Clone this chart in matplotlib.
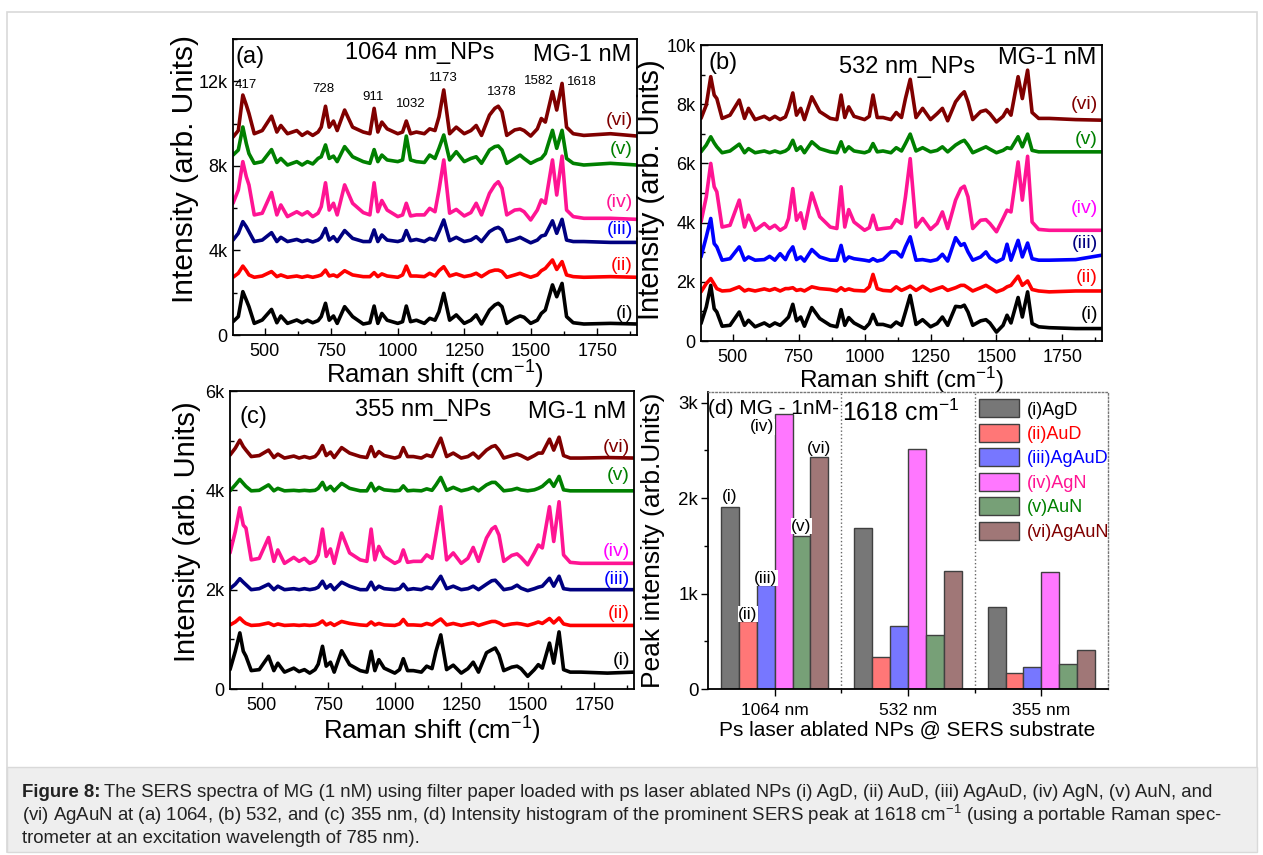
import matplotlib
matplotlib.use("Agg")
import matplotlib.pyplot as plt
from matplotlib.ticker import MultipleLocator, FuncFormatter, FixedLocator
from matplotlib.patches import Rectangle

plt.rcParams['font.family'] = ['Liberation Sans', 'DejaVu Sans']
plt.rcParams['mathtext.fontset'] = 'custom'
plt.rcParams['mathtext.rm'] = 'Liberation Sans'
plt.rcParams['mathtext.it'] = 'Liberation Sans:italic'
plt.rcParams['mathtext.bf'] = 'Liberation Sans:bold'

# ---------------------------------------------------------------- data
raman_shift = [
    380, 400, 417, 430, 440, 460, 490, 525, 545, 560,
    585, 620, 640, 660, 680, 700, 712, 728, 742, 758,
    772, 800, 830, 870, 895, 911, 925, 940, 960, 1000,
    1018, 1032, 1048, 1070, 1100, 1120, 1140, 1155, 1173, 1195,
    1220, 1250, 1275, 1295, 1315, 1345, 1365, 1378, 1392, 1410,
    1440, 1460, 1475, 1500, 1525, 1540, 1555, 1582, 1598, 1618,
    1635, 1660, 1700, 1800, 1900,
]

# (a) 1064 nm NPs, stacked spectra
a_agd = [
    630, 870, 2050, 1655, 1340, 550, 710, 1210, 580, 900,
    550, 710, 580, 700, 580, 680, 870, 1500, 700, 900,
    550, 1340, 870, 520, 580, 1370, 550, 1020, 700, 550,
    630, 1370, 630, 700, 550, 790, 700, 1100, 1970, 700,
    950, 550, 700, 950, 520, 1180, 1420, 1500, 1340, 550,
    790, 900, 840, 550, 700, 1020, 1180, 2370, 1810, 2440,
    870, 580, 520, 550, 520,
]
a_aud = [
    2730, 2920, 3260, 3040, 2840, 2730, 2790, 3000, 2760, 2840,
    2730, 2790, 2730, 2790, 2730, 2790, 2840, 3070, 2790, 2840,
    2760, 3040, 2840, 2760, 2760, 2950, 2760, 2890, 2790, 2730,
    2840, 3260, 2790, 2790, 2760, 2920, 2790, 3040, 3230, 2790,
    2890, 2760, 2820, 2920, 2760, 3000, 3070, 3070, 3000, 2730,
    2840, 2920, 2840, 2730, 2840, 3040, 3150, 3550, 3100, 3470,
    2840, 2760, 2730, 2760, 2730,
]
a_agaud = [
    4490, 4810, 5360, 5120, 4890, 4420, 4490, 4840, 4420, 4620,
    4420, 4520, 4420, 4490, 4400, 4490, 4620, 5040, 4490, 4650,
    4420, 4940, 4570, 4420, 4420, 4970, 4420, 4730, 4490, 4420,
    4490, 4940, 4460, 4520, 4420, 4570, 4490, 4890, 5440, 4460,
    4620, 4420, 4490, 4650, 4420, 4890, 5040, 5090, 4970, 4420,
    4520, 4620, 4520, 4360, 4490, 4680, 4730, 5400, 4810, 5470,
    4490, 4420, 4420, 4380, 4380,
]
a_agn = [
    6230, 6860, 8200, 7490, 7100, 5680, 5760, 6740, 5680, 6150,
    5600, 5830, 5680, 5830, 5600, 5760, 6070, 7200, 5910, 6230,
    5680, 7100, 6230, 5790, 5680, 7200, 5830, 6360, 5910, 5600,
    5680, 6230, 5630, 5680, 5680, 5990, 5830, 6860, 8280, 5760,
    5940, 5630, 5790, 6230, 5680, 6700, 7100, 7250, 6940, 5680,
    5910, 5940, 5830, 5440, 5910, 6390, 6230, 8280, 6620, 8460,
    5910, 5600, 5520, 5520, 5470,
]
a_aun = [
    8510, 8750, 9840, 9060, 8580, 8120, 8200, 8770, 8160, 8350,
    8040, 8200, 8040, 8200, 8090, 8350, 8430, 8990, 8350, 8460,
    8200, 8910, 8430, 8200, 8120, 8770, 8200, 8510, 8280, 8200,
    8280, 9410, 8280, 8200, 8160, 8510, 8350, 8830, 9460, 8280,
    8670, 8200, 8350, 8430, 8120, 8750, 8910, 8940, 8750, 8120,
    8350, 8510, 8350, 8120, 8280, 8350, 8580, 9680, 8830, 9680,
    8350, 8120, 8040, 8120, 8040,
]
a_agaun = [
    9360, 9670, 11350, 10880, 10480, 9520, 9670, 10350, 9600, 9910,
    9520, 9670, 9440, 9600, 9440, 9600, 9830, 10820, 9830, 10120,
    9670, 10640, 9830, 9600, 9520, 10720, 9600, 10070, 9750, 9520,
    9600, 10120, 9520, 9600, 9520, 9750, 9670, 10320, 11590, 9520,
    9830, 9520, 9670, 9910, 9440, 10400, 10720, 10820, 10560, 9440,
    9700, 9750, 9670, 9410, 9750, 10240, 10070, 11510, 10640, 11900,
    9830, 9520, 9440, 9520, 9410,
]

# (b) 532 nm NPs
b_agd = [
    590, 1150, 1880, 1090, 980, 500, 530, 980, 530, 700,
    480, 610, 500, 610, 530, 700, 810, 1240, 680, 810,
    500, 1130, 760, 530, 480, 1060, 530, 790, 610, 420,
    590, 900, 560, 560, 480, 640, 530, 980, 1540, 560,
    720, 480, 590, 810, 530, 1170, 1150, 1210, 980, 530,
    680, 720, 610, 300, 530, 870, 610, 1470, 810, 1660,
    590, 480, 450, 420, 420,
]
b_aud = [
    1660, 1940, 2110, 1920, 1770, 1690, 1710, 1830, 1690, 1740,
    1690, 1760, 1710, 1770, 1690, 1770, 1770, 1800, 1710, 1740,
    1690, 1830, 1770, 1740, 1690, 1800, 1710, 1760, 1710, 1690,
    1830, 2250, 1770, 1710, 1690, 1830, 1710, 1770, 1850, 1710,
    1850, 1690, 1770, 1830, 1710, 1800, 1880, 1880, 1800, 1690,
    1800, 1880, 1800, 1660, 1740, 1830, 1880, 2190, 1880, 2030,
    1740, 1690, 1660, 1690, 1690,
]
b_agaud = [
    2840, 3520, 4140, 3290, 3180, 2730, 2780, 3180, 2730, 2840,
    2730, 2750, 2860, 2730, 2950, 2750, 2980, 3180, 2750, 2840,
    2700, 3090, 2840, 2730, 2730, 3230, 2700, 2840, 2780, 2730,
    2700, 2780, 2700, 2750, 3010, 3010, 2840, 3180, 3520, 2730,
    2750, 2700, 2750, 2930, 2700, 3490, 3230, 3290, 3010, 2730,
    2840, 3010, 2810, 2670, 2780, 3270, 2730, 3400, 2840, 3310,
    2780, 2730, 2730, 2750, 2900,
]
b_agn = [
    4020, 4870, 6000, 5210, 5040, 3850, 3910, 4760, 3850, 4250,
    3740, 3970, 3800, 3910, 3740, 3850, 4140, 5150, 4080, 4330,
    3800, 5000, 4200, 3850, 3800, 5210, 3850, 4440, 4020, 3740,
    3830, 4250, 3770, 3800, 3830, 4100, 3970, 4870, 6160, 3850,
    4140, 3770, 3970, 4360, 3800, 4760, 5150, 5230, 4870, 3800,
    4080, 4100, 3970, 3690, 4140, 4420, 4360, 6050, 4760, 6240,
    4020, 3770, 3740, 3740, 3740,
]
b_aun = [
    6390, 6620, 6900, 6690, 6560, 6360, 6420, 6650, 6360, 6500,
    6360, 6420, 6360, 6420, 6360, 6420, 6500, 6780, 6440, 6560,
    6360, 6730, 6500, 6390, 6360, 6730, 6390, 6560, 6420, 6360,
    6420, 6670, 6390, 6420, 6360, 6530, 6420, 6670, 6990, 6420,
    6530, 6390, 6440, 6560, 6390, 6620, 6730, 6780, 6620, 6360,
    6480, 6560, 6480, 6360, 6440, 6530, 6500, 6900, 6560, 6990,
    6440, 6390, 6390, 6390, 6390,
]
b_agaun = [
    7520, 7970, 8930, 8310, 8190, 7520, 7630, 8140, 7520, 7860,
    7480, 7590, 7480, 7590, 7480, 7570, 7860, 8380, 7630, 7860,
    7480, 8250, 7750, 7520, 7480, 8310, 7550, 7910, 7590, 7480,
    7590, 8310, 7550, 7550, 7480, 7720, 7550, 8190, 8840, 7550,
    7860, 7480, 7680, 7860, 7440, 8080, 8310, 8420, 8080, 7480,
    7750, 7800, 7680, 7400, 7590, 7820, 7630, 8930, 8190, 9150,
    7720, 7520, 7520, 7480, 7460,
]

# (c) 355 nm NPs
c_agd = [
    390, 760, 1130, 760, 660, 370, 390, 660, 370, 520,
    340, 420, 350, 390, 320, 390, 500, 860, 460, 540,
    340, 770, 490, 370, 340, 760, 370, 590, 420, 320,
    390, 610, 370, 370, 340, 460, 410, 760, 1090, 390,
    480, 320, 410, 540, 340, 730, 790, 825, 690, 370,
    440, 460, 410, 255, 390, 490, 420, 925, 520, 1150,
    390, 340, 340, 320, 340,
]
c_aud = [
    1290, 1350, 1430, 1360, 1320, 1280, 1290, 1330, 1280, 1310,
    1280, 1290, 1280, 1290, 1280, 1290, 1310, 1370, 1290, 1330,
    1280, 1360, 1320, 1290, 1280, 1350, 1290, 1320, 1290, 1280,
    1310, 1400, 1290, 1290, 1280, 1320, 1290, 1350, 1410, 1290,
    1320, 1280, 1310, 1330, 1280, 1330, 1360, 1360, 1330, 1280,
    1310, 1320, 1310, 1280, 1320, 1350, 1320, 1420, 1330, 1430,
    1310, 1280, 1280, 1280, 1280,
]
c_agaud = [
    2020, 2110, 2220, 2150, 2100, 2000, 2020, 2110, 2000, 2070,
    2000, 2020, 2000, 2020, 2000, 2020, 2050, 2170, 2030, 2100,
    2000, 2150, 2070, 2000, 2000, 2150, 2000, 2070, 2020, 2000,
    2020, 2110, 2000, 2020, 2000, 2050, 2020, 2130, 2270, 2020,
    2070, 2000, 2020, 2070, 2000, 2110, 2180, 2190, 2110, 2000,
    2030, 2090, 2030, 1980, 2020, 2050, 2070, 2230, 2070, 2270,
    2020, 2000, 2000, 2000, 2000,
]
c_agn = [
    2740, 3170, 3650, 3300, 3240, 2600, 2630, 3050, 2570, 2800,
    2530, 2650, 2570, 2630, 2530, 2580, 2700, 3220, 2670, 2820,
    2530, 3140, 2740, 2600, 2570, 3220, 2600, 2870, 2670, 2530,
    2580, 2800, 2550, 2570, 2570, 2700, 2630, 3100, 3670, 2600,
    2740, 2530, 2630, 2850, 2570, 3040, 3220, 3270, 3100, 2570,
    2690, 2720, 2650, 2500, 2740, 2900, 2840, 3670, 2970, 3770,
    2700, 2550, 2530, 2530, 2530,
]
c_aun = [
    3990, 4110, 4220, 4140, 4080, 3990, 4000, 4110, 3990, 4040,
    3990, 4000, 3990, 4000, 3990, 4000, 4040, 4160, 4010, 4080,
    3990, 4140, 4040, 3990, 3990, 4140, 3990, 4060, 4010, 3990,
    4000, 4090, 3990, 4000, 3990, 4030, 4000, 4110, 4260, 4000,
    4060, 3990, 4020, 4060, 3990, 4110, 4160, 4160, 4090, 3990,
    4010, 4040, 4010, 3990, 4010, 4040, 4080, 4210, 4080, 4280,
    4010, 3990, 3990, 3990, 3990,
]
c_agaun = [
    4710, 4850, 5010, 4880, 4810, 4680, 4700, 4810, 4660, 4730,
    4650, 4690, 4650, 4680, 4650, 4680, 4750, 4900, 4700, 4770,
    4660, 4860, 4750, 4680, 4660, 4880, 4680, 4780, 4700, 4650,
    4680, 4860, 4680, 4680, 4650, 4710, 4680, 4850, 5050, 4680,
    4750, 4650, 4680, 4750, 4650, 4810, 4880, 4900, 4810, 4650,
    4700, 4730, 4700, 4630, 4700, 4750, 4750, 5030, 4810, 5070,
    4700, 4650, 4650, 4660, 4650,
]

series_tags = ['(i)', '(ii)', '(iii)', '(iv)', '(v)', '(vi)']
peak_labels = ['417', '728', '911', '1032', '1173', '1378', '1582', '1618']

# (d) intensity of the 1618 cm-1 band
wavelength_groups = ['1064 nm', '532 nm', '355 nm']
np_names = ['(i)AgD', '(ii)AuD', '(iii)AgAuD', '(iv)AgN', '(v)AuN', '(vi)AgAuN']
peak_agd = [1910, 1690, 855]
peak_aud = [710, 330, 165]
peak_agaud = [1090, 655, 235]
peak_agn = [2880, 2510, 1230]
peak_aun = [1600, 565, 260]
peak_agaun = [2430, 1240, 405]

# ---------------------------------------------------------------- figure
W, H = 1263, 855
fig = plt.figure(figsize=(W / 100, H / 100), dpi=100)


def px_rect(left, top, right, bottom):
    return [left / W, 1 - bottom / H, (right - left) / W, (bottom - top) / H]


# page frame and caption panel
fig.patches.append(Rectangle((7 / W, 1 - 852 / H), 1250 / W, 840 / H,
                             transform=fig.transFigure, facecolor='none',
                             edgecolor='#d9d9d9', lw=1.2, zorder=0))
fig.patches.append(Rectangle((7 / W, 1 - 852 / H), 1250 / W, 85 / H,
                             transform=fig.transFigure, facecolor='#eeeeee',
                             edgecolor='#d9d9d9', lw=1.0, zorder=0))


def kfmt(v, pos):
    if abs(v) < 1e-9:
        return '0'
    return f'{v / 1000:g}k'


def spectra_panel(rect, spectra, ymax, ymajor, yminor, tag, tag_xy, title,
                  title_xy, mg_xy, line_colors, tag_colors, tag_y,
                  ylabel_xy, xlabel_y, ylabel_size, xlabel_size=18.5):
    ax = fig.add_axes(rect)
    for ys, c in zip(spectra, line_colors):
        ax.plot(raman_shift, ys, color=c, lw=2.6, solid_joinstyle='round',
                solid_capstyle='round')
    ax.set_xlim(380, 1900)
    ax.set_ylim(0, ymax)
    ax.xaxis.set_major_locator(MultipleLocator(250))
    ax.xaxis.set_minor_locator(MultipleLocator(125))
    ax.yaxis.set_major_locator(MultipleLocator(ymajor))
    ax.yaxis.set_minor_locator(MultipleLocator(yminor))
    ax.yaxis.set_major_formatter(FuncFormatter(kfmt))
    ax.tick_params(which='both', direction='in', top=False, right=False,
                   width=1.0, labelsize=13)
    ax.tick_params(which='major', length=5)
    ax.tick_params(which='minor', length=3)
    ax.tick_params(axis='x', pad=6)
    ax.tick_params(axis='y', pad=4)
    for s in ax.spines.values():
        s.set_linewidth(1.3)
    ax.set_ylabel('Intensity (arb. Units)', fontsize=ylabel_size)
    ax.yaxis.set_label_coords(*ylabel_xy)
    ax.set_xlabel('Raman shift (cm$^{-1}$)', fontsize=xlabel_size)
    ax.xaxis.set_label_coords(0.5, xlabel_y)
    ax.text(*tag_xy, tag, transform=ax.transAxes, fontsize=17,
            ha='center', va='center')
    ax.text(*title_xy, title, transform=ax.transAxes, fontsize=17,
            ha='center', va='center')
    ax.text(*mg_xy, 'MG-1 nM', transform=ax.transAxes, fontsize=17,
            ha='center', va='center')
    for lab, c, y in zip(series_tags, tag_colors, tag_y):
        ax.text(0.99, y, lab, transform=ax.transAxes, fontsize=14,
                color=c, ha='right', va='center')
    return ax


ax_a = spectra_panel(
    px_rect(233, 39, 637, 335),
    [a_agd, a_aud, a_agaud, a_agn, a_aun, a_agaun], 14000, 4000, 2000,
    '(a)', (0.043, 0.94), '1064 nm_NPs', (0.463, 0.952), (0.864, 0.946),
    ['#000000', '#ff0000', '#000080', '#ff1493', '#008000', '#800000'],
    ['#000000', '#ff0000', '#0000ff', '#ff1493', '#008000', '#800000'],
    [0.074, 0.236, 0.355, 0.446, 0.628, 0.723], (-0.083, 0.56), -0.082, 21.5)

peak_label_xy = [(430, 11830), (719, 11640), (907, 11260), (1050, 10930),
                 (1171, 12160), (1392, 11490), (1532, 12010), (1693, 11970)]
for lab, (x, y) in zip(peak_labels, peak_label_xy):
    ax_a.text(x, y, lab, fontsize=9.5, ha='center', va='center')

ax_b = spectra_panel(
    px_rect(701, 45, 1102, 341),
    [b_agd, b_aud, b_agaud, b_agn, b_aun, b_agaun], 10000, 2000, 1000,
    '(b)', (0.055, 0.939), '532 nm_NPs', (0.514, 0.926), (0.863, 0.956),
    ['#000000', '#ff0000', '#0000ff', '#ff1493', '#008000', '#800000'],
    ['#000000', '#ff0000', '#000080', '#ff00ff', '#008000', '#800000'],
    [0.091, 0.216, 0.331, 0.449, 0.682, 0.80], (-0.091, 0.51), -0.08, 21,
    17.5)

ax_c = spectra_panel(
    px_rect(230, 391, 634, 689),
    [c_agd, c_aud, c_agaud, c_agn, c_aun, c_agaun], 6000, 2000, 1000,
    '(c)', (0.057, 0.913), '355 nm_NPs', (0.478, 0.936), (0.859, 0.930),
    ['#000000', '#ff0000', '#000080', '#ff1493', '#008000', '#800000'],
    ['#000000', '#ff0000', '#0000ff', '#ff00ff', '#008000', '#800000'],
    [0.097, 0.255, 0.369, 0.46, 0.715, 0.812], (-0.073, 0.527), -0.087, 21)

# ---------------------------------------------------------------- (d) bars
ax_d = fig.add_axes(px_rect(708, 392, 1108, 689))
bar_values = [peak_agd, peak_aud, peak_agaud, peak_agn, peak_aun, peak_agaun]
bar_colors = ['#777777', '#ff7777', '#7777ff', '#ff77ff', '#77a077', '#a07777']
text_colors = ['#000000', '#ff0000', '#0000ff', '#ff1493', '#008000', '#800000']
bar_w = 0.134
cats = list(range(len(wavelength_groups)))
containers = []
for k, (vals, col) in enumerate(zip(bar_values, bar_colors)):
    xs = [c + (k - 2.5) * bar_w for c in cats]
    bc = ax_d.bar(xs, vals, width=bar_w, color=col, edgecolor='#404040',
                  lw=1.0, label=np_names[k], zorder=2)
    containers.append(bc)

# tags over the 1064 nm group
tag_dx = [0, 0, 0, -0.16, 0, 0]
tag_dy = [110, 75, 72, -135, 105, 90]
for k, vals in enumerate(bar_values):
    x = cats[0] + (k - 2.5) * bar_w + tag_dx[k]
    ax_d.text(x, vals[0] + tag_dy[k], series_tags[k], fontsize=12.5,
              ha='center', va='center', zorder=3,
              bbox=dict(facecolor='white', edgecolor='none', pad=0.3))

ax_d.set_xlim(-0.5, 2.5)
ax_d.set_ylim(0, 3110)
for xv in (0.5, 1.5):
    ax_d.axvline(xv, color='#666666', ls=':', lw=1.0, zorder=1)
ax_d.set_xticks(cats)
ax_d.set_xticklabels(wavelength_groups)
ax_d.xaxis.set_minor_locator(FixedLocator([0.5, 1.5]))
ax_d.yaxis.set_major_locator(MultipleLocator(1000))
ax_d.yaxis.set_minor_locator(MultipleLocator(500))
ax_d.yaxis.set_major_formatter(FuncFormatter(kfmt))
ax_d.tick_params(which='both', direction='out', top=False, right=False,
                 width=1.0)
ax_d.tick_params(which='major', length=5)
ax_d.tick_params(which='minor', length=3)
ax_d.tick_params(axis='x', labelsize=12.5, pad=5)
ax_d.tick_params(axis='y', labelsize=13.5, pad=2)
ax_d.spines['left'].set_linewidth(1.3)
ax_d.spines['bottom'].set_linewidth(1.3)
for side in ('top', 'right'):
    ax_d.spines[side].set_linestyle(':')
    ax_d.spines[side].set_color('#777777')
    ax_d.spines[side].set_linewidth(1.0)
ax_d.set_ylabel('Peak intensity (arb.Units)', fontsize=19)
ax_d.yaxis.set_label_coords(-0.108, 0.5)
ax_d.set_xlabel('Ps laser ablated NPs @ SERS substrate', fontsize=15)
ax_d.xaxis.set_label_coords(0.4975, -0.108)
ax_d.text(0.0, 0.946, '(d) MG - 1nM-', transform=ax_d.transAxes,
          fontsize=15, ha='left', va='center')
ax_d.text(0.335, 0.93, '1618 cm$^{-1}$', transform=ax_d.transAxes,
          fontsize=18, ha='left', va='center')

leg = ax_d.legend(containers, np_names, loc='upper left',
                  bbox_to_anchor=(0.677, 0.975), frameon=False, fontsize=13,
                  handlelength=2.25, handleheight=1.15, handletextpad=0.4,
                  labelspacing=0.3, borderpad=0, borderaxespad=0)
for t, c in zip(leg.get_texts(), text_colors):
    t.set_color(c)

# ---------------------------------------------------------------- caption
cap_lines = [
    'The SERS spectra of MG (1 nM) using filter paper loaded with ps laser '
    'ablated NPs (i) AgD, (ii) AuD, (iii) AgAuD, (iv) AgN, (v) AuN, and',
    '(vi) AgAuN at (a) 1064, (b) 532, and (c) 355 nm, (d) Intensity histogram '
    'of the prominent SERS peak at 1618 cm$^{-1}$ (using a portable Raman spec-',
    'trometer at an excitation wavelength of 785 nm).',
]
cap_y = [792, 815, 838]
cap_left = 22
cap_fs = 11.5
head = fig.text(cap_left / W, 1 - cap_y[0] / H, 'Figure 8:', fontsize=cap_fs,
                fontweight='bold', ha='left', va='center', color='#222222')
fig.canvas.draw()
renderer = fig.canvas.get_renderer()
hb = head.get_window_extent(renderer)
rest = fig.text((hb.x1 + 4) / W, 1 - cap_y[0] / H, cap_lines[0],
                fontsize=cap_fs, ha='left', va='center', color='#222222')
fig.canvas.draw()
rb = rest.get_window_extent(renderer)
scale = (1222 - cap_left) / (rb.x1 - hb.x0)
cap_fs *= scale
head.set_fontsize(cap_fs)
rest.set_fontsize(cap_fs)
fig.canvas.draw()
hb = head.get_window_extent(renderer)
rest.set_x((hb.x1 + 4) / W)
for line, y in zip(cap_lines[1:], cap_y[1:]):
    fig.text(cap_left / W, 1 - y / H, line, fontsize=cap_fs, ha='left',
             va='center', color='#222222')

fig.savefig('out.png', dpi=100, facecolor='white')
